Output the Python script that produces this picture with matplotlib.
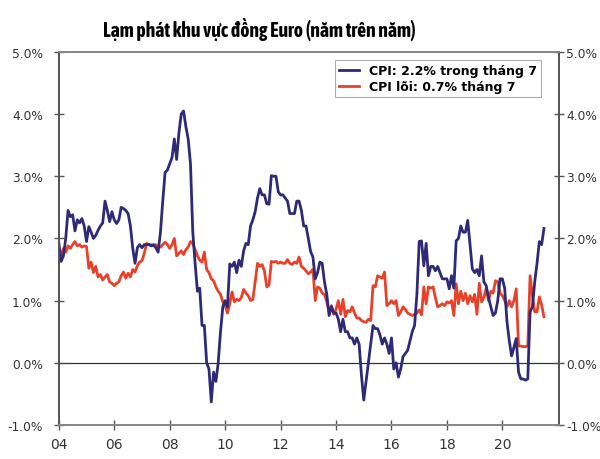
import numpy as np
import matplotlib.pyplot as plt
from matplotlib import font_manager

# monthly yoy values, Jan 2004 .. Jul 2021
cpi = [
    1.93, 1.63, 1.72, 2.0, 2.45, 2.35, 2.38, 2.12, 2.3, 2.25, 2.32, 2.2,      # 2004
    1.95, 2.19, 2.1, 2.0, 2.05, 2.13, 2.2, 2.25, 2.6, 2.45, 2.27, 2.43,      # 2005
    2.3, 2.24, 2.3, 2.5, 2.48, 2.45, 2.4, 2.2, 1.84, 1.6, 1.85, 1.9,         # 2006
    1.85, 1.9, 1.9, 1.9, 1.88, 1.9, 1.85, 1.78, 2.1, 2.6, 3.06, 3.1,         # 2007
    3.2, 3.3, 3.6, 3.27, 3.7, 4.0, 4.05, 3.8, 3.6, 3.2, 2.1, 1.6,            # 2008
    1.15, 1.2, 0.6, 0.6, 0.0, -0.1, -0.63, -0.15, -0.3, 0.0, 0.5, 0.9,       # 2009
    1.0, 0.9, 1.59, 1.55, 1.62, 1.45, 1.65, 1.55, 1.8, 1.92, 1.9, 2.2,       # 2010
    2.3, 2.43, 2.65, 2.8, 2.7, 2.7, 2.56, 2.55, 3.01, 3.0, 3.0, 2.75,        # 2011
    2.7, 2.7, 2.65, 2.6, 2.4, 2.4, 2.4, 2.6, 2.6, 2.45, 2.2, 2.2,            # 2012
    2.0, 1.79, 1.7, 1.35, 1.45, 1.62, 1.6, 1.3, 1.1, 0.76, 0.9, 0.8,         # 2013
    0.8, 0.7, 0.5, 0.7, 0.5, 0.5, 0.4, 0.4, 0.3, 0.4, 0.3, -0.2,             # 2014
    -0.6, -0.3, 0.0, 0.3, 0.6, 0.55, 0.55, 0.45, 0.3, 0.4, 0.3, 0.15,        # 2015
    0.4, -0.1, 0.0, -0.23, -0.1, 0.1, 0.15, 0.2, 0.35, 0.5, 0.6, 1.1,        # 2016
    1.95, 1.96, 1.56, 1.92, 1.4, 1.55, 1.55, 1.48, 1.55, 1.45, 1.35, 1.35,   # 2017
    1.35, 1.19, 1.4, 1.2, 1.96, 2.0, 2.2, 2.1, 2.1, 2.29, 1.9, 1.51,         # 2018
    1.45, 1.5, 1.4, 1.72, 1.3, 1.24, 1.05, 0.9, 0.76, 0.8, 1.0, 1.35,        # 2019
    1.35, 1.2, 0.66, 0.35, 0.11, 0.25, 0.39, -0.15, -0.26, -0.26, -0.28, -0.26,  # 2020
    0.82, 0.9, 1.3, 1.6, 1.95, 1.9, 2.16,                                    # 2021
]
core = [
    1.67, 1.72, 1.84, 1.78, 1.88, 1.84, 1.9, 1.95, 1.88, 1.9, 1.86, 1.88,    # 2004
    1.87, 1.52, 1.62, 1.45, 1.55, 1.38, 1.42, 1.33, 1.38, 1.42, 1.3, 1.28,   # 2005
    1.24, 1.28, 1.3, 1.4, 1.46, 1.36, 1.44, 1.38, 1.5, 1.46, 1.56, 1.62,     # 2006
    1.64, 1.76, 1.92, 1.9, 1.9, 1.88, 1.9, 1.87, 1.86, 1.9, 1.94, 1.9,       # 2007
    1.84, 1.9, 2.0, 1.72, 1.76, 1.8, 1.74, 1.82, 1.86, 1.95, 1.92, 1.82,     # 2008
    1.72, 1.65, 1.62, 1.78, 1.5, 1.45, 1.35, 1.32, 1.22, 1.15, 1.1, 0.98,    # 2009
    0.92, 0.8, 0.95, 1.14, 0.98, 1.02, 1.0, 1.05, 1.18, 1.12, 1.08, 1.0,     # 2010
    1.02, 1.3, 1.6, 1.55, 1.58, 1.48, 1.22, 1.25, 1.63, 1.62, 1.63, 1.6,     # 2011
    1.62, 1.6, 1.6, 1.66, 1.6, 1.58, 1.62, 1.6, 1.7, 1.55, 1.52, 1.48,       # 2012
    1.43, 1.46, 1.5, 1.0, 1.22, 1.2, 1.12, 1.1, 0.98, 0.82, 0.92, 0.78,      # 2013
    0.86, 1.0, 0.78, 1.02, 0.74, 0.84, 0.82, 0.9, 0.8, 0.72, 0.72, 0.68,     # 2014
    0.66, 0.65, 0.7, 0.68, 1.24, 1.22, 1.4, 1.38, 1.36, 1.46, 0.92, 0.95,    # 2015
    1.0, 0.95, 1.0, 0.76, 0.82, 0.9, 0.86, 0.8, 0.78, 0.76, 0.78, 0.8,       # 2016
    0.85, 0.77, 1.22, 0.95, 1.22, 1.2, 1.22, 1.05, 0.9, 0.92, 0.95, 0.92,    # 2017
    0.98, 0.96, 1.0, 0.76, 1.27, 0.95, 1.15, 1.0, 1.12, 0.95, 1.08, 0.98,    # 2018
    1.1, 0.78, 1.28, 0.98, 1.05, 1.2, 1.0, 1.15, 1.12, 1.32, 1.3, 1.12,      # 2019
    1.08, 1.0, 0.9, 1.0, 0.9, 1.0, 1.19, 0.27, 0.27, 0.26, 0.26, 0.27,       # 2020
    1.4, 1.08, 0.82, 0.82, 1.06, 0.93, 0.74,                                 # 2021
]
years = [2004, 2006, 2008, 2010, 2012, 2014, 2016, 2018, 2020]
year_labels = ["04", "06", "08", "10", "12", "14", "16", "18", "20"]
yticks = [-1, 0, 1, 2, 3, 4, 5]

t = 2004 + np.arange(len(cpi)) / 12.0


def narrow_bold_font():
    # look for a condensed bold face, the title in the reference is condensed
    fonts = font_manager.fontManager.ttflist
    bold = [f for f in fonts if f.weight in (600, 700, 800, "bold", "semibold")]
    for key in ("Condensed", "Narrow"):
        for f in bold:
            if key in f.name and "Mono" not in f.name:
                return font_manager.FontProperties(fname=f.fname)
    for f in bold:
        if f.stretch in ("condensed", "semi-condensed") and "Mono" not in f.name \
                and "Serif" not in f.name:
            return font_manager.FontProperties(fname=f.fname)
    return font_manager.FontProperties(family="DejaVu Sans", weight="bold")


fig = plt.figure(figsize=(6, 4.6), dpi=100)
ax = fig.add_axes([0.098, 0.074, 0.834, 0.811])

ax.axhline(0, color="#333333", lw=0.9, zorder=1)
ax.plot(t, cpi, color="#2e2a78", lw=2.0, label="CPI: 2.2% trong tháng 7", zorder=3)
ax.plot(t, core, color="#e8412a", lw=2.0, label="CPI lõi: 0.7% tháng 7", zorder=2)

ax.set_xlim(2004, 2022.05)
ax.set_ylim(-1, 5)
ax.set_xticks(years)
ax.set_xticklabels(year_labels)
ax.set_yticks(yticks)
ax.set_yticklabels([f"{v:.1f}%" for v in yticks])

ax2 = ax.twinx()
ax2.set_ylim(-1, 5)
ax2.set_yticks(yticks)
ax2.set_yticklabels([f"{v:.1f}%" for v in yticks])

for a in (ax, ax2):
    for side in ("left", "right"):
        a.spines[side].set_color("#555555")
        a.spines[side].set_linewidth(1.3)
    for side in ("top", "bottom"):
        a.spines[side].set_color("#888888")
        a.spines[side].set_linewidth(1.3)
    a.tick_params(axis="both", direction="inout", length=7, width=1,
                  color="#555555", labelsize=8.8, labelcolor="#333333", pad=3)
ax.tick_params(axis="y", pad=8)
ax2.tick_params(axis="y", pad=1.5)
ax.tick_params(axis="x", pad=5, labelsize=10)

leg = ax.legend(loc="upper right", bbox_to_anchor=(0.977, 0.995), frameon=True,
                fancybox=False, handlelength=1.6, borderpad=0.35, labelspacing=0.2,
                prop={"weight": "bold", "size": 9})
leg.get_frame().set_edgecolor("#999999")
leg.get_frame().set_linewidth(0.8)

fp = narrow_bold_font()
fp.set_size(16)
title = fig.text(0.433, 0.935, "Lạm phát khu vực đồng Euro (năm trên năm)",
                 ha="center", va="center", fontproperties=fp)
# shrink the title if the available font is much wider than the reference one
fig.canvas.draw()
w = title.get_window_extent().width
if w > 315:
    fp.set_size(max(16 * 315 / w, 12.5))
    title.set_fontproperties(fp)

fig.savefig("out.png", dpi=100)
